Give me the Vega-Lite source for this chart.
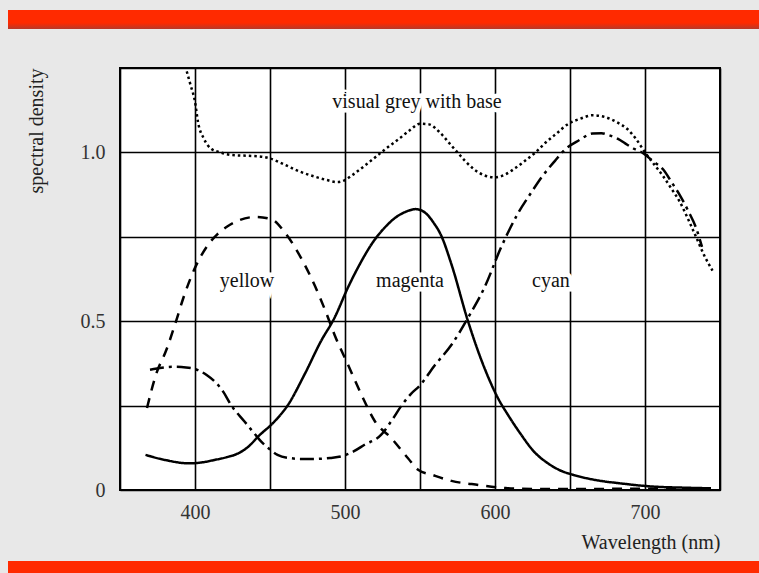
{
  "$schema": "https://vega.github.io/schema/vega-lite/v6.json",
  "background": "#e8e8e8",
  "padding": {"left": 8, "top": 10, "right": 0, "bottom": 0},
  "config": {"font": "Liberation Serif", "view": {"stroke": null}},
  "datasets": {
    "curves": [
      {"series": "grey", "nm": 394.5, "density": 1.24},
      {"series": "grey", "nm": 397, "density": 1.2},
      {"series": "grey", "nm": 400, "density": 1.15},
      {"series": "grey", "nm": 402, "density": 1.09},
      {"series": "grey", "nm": 406, "density": 1.04},
      {"series": "grey", "nm": 411, "density": 1.01},
      {"series": "grey", "nm": 417, "density": 1.0},
      {"series": "grey", "nm": 425, "density": 0.992},
      {"series": "grey", "nm": 435, "density": 0.99},
      {"series": "grey", "nm": 445, "density": 0.987},
      {"series": "grey", "nm": 450, "density": 0.982},
      {"series": "grey", "nm": 460, "density": 0.963},
      {"series": "grey", "nm": 470, "density": 0.943},
      {"series": "grey", "nm": 480, "density": 0.928},
      {"series": "grey", "nm": 488, "density": 0.918},
      {"series": "grey", "nm": 495, "density": 0.912},
      {"series": "grey", "nm": 500, "density": 0.918},
      {"series": "grey", "nm": 505, "density": 0.933},
      {"series": "grey", "nm": 513, "density": 0.96},
      {"series": "grey", "nm": 520, "density": 0.985},
      {"series": "grey", "nm": 527, "density": 1.01},
      {"series": "grey", "nm": 536, "density": 1.04},
      {"series": "grey", "nm": 543, "density": 1.065},
      {"series": "grey", "nm": 550, "density": 1.085},
      {"series": "grey", "nm": 556, "density": 1.083},
      {"series": "grey", "nm": 563, "density": 1.06},
      {"series": "grey", "nm": 570, "density": 1.025},
      {"series": "grey", "nm": 575, "density": 1.0},
      {"series": "grey", "nm": 580, "density": 0.975},
      {"series": "grey", "nm": 586, "density": 0.95},
      {"series": "grey", "nm": 593, "density": 0.932},
      {"series": "grey", "nm": 600, "density": 0.926},
      {"series": "grey", "nm": 607, "density": 0.935},
      {"series": "grey", "nm": 614, "density": 0.955},
      {"series": "grey", "nm": 620, "density": 0.975},
      {"series": "grey", "nm": 627, "density": 1.0},
      {"series": "grey", "nm": 634, "density": 1.03},
      {"series": "grey", "nm": 641, "density": 1.056},
      {"series": "grey", "nm": 649, "density": 1.085},
      {"series": "grey", "nm": 657, "density": 1.1},
      {"series": "grey", "nm": 665, "density": 1.11},
      {"series": "grey", "nm": 673, "density": 1.105},
      {"series": "grey", "nm": 681, "density": 1.09},
      {"series": "grey", "nm": 688, "density": 1.07},
      {"series": "grey", "nm": 694, "density": 1.04},
      {"series": "grey", "nm": 700, "density": 1.0},
      {"series": "grey", "nm": 706, "density": 0.965},
      {"series": "grey", "nm": 712, "density": 0.93},
      {"series": "grey", "nm": 718, "density": 0.89},
      {"series": "grey", "nm": 723, "density": 0.855},
      {"series": "grey", "nm": 729, "density": 0.8},
      {"series": "grey", "nm": 734, "density": 0.75},
      {"series": "grey", "nm": 740, "density": 0.69},
      {"series": "grey", "nm": 745, "density": 0.65},

      {"series": "cyan", "nm": 370, "density": 0.356},
      {"series": "cyan", "nm": 378, "density": 0.362},
      {"series": "cyan", "nm": 386, "density": 0.365},
      {"series": "cyan", "nm": 394, "density": 0.363},
      {"series": "cyan", "nm": 402, "density": 0.355},
      {"series": "cyan", "nm": 408, "density": 0.34},
      {"series": "cyan", "nm": 413, "density": 0.322},
      {"series": "cyan", "nm": 419, "density": 0.29},
      {"series": "cyan", "nm": 424, "density": 0.252},
      {"series": "cyan", "nm": 433, "density": 0.203},
      {"series": "cyan", "nm": 440, "density": 0.165},
      {"series": "cyan", "nm": 444, "density": 0.144},
      {"series": "cyan", "nm": 450, "density": 0.12},
      {"series": "cyan", "nm": 455, "density": 0.104},
      {"series": "cyan", "nm": 464, "density": 0.094},
      {"series": "cyan", "nm": 472, "density": 0.092},
      {"series": "cyan", "nm": 480, "density": 0.092},
      {"series": "cyan", "nm": 490, "density": 0.095},
      {"series": "cyan", "nm": 498, "density": 0.1},
      {"series": "cyan", "nm": 506, "density": 0.115},
      {"series": "cyan", "nm": 513, "density": 0.134},
      {"series": "cyan", "nm": 524, "density": 0.163},
      {"series": "cyan", "nm": 531, "density": 0.205},
      {"series": "cyan", "nm": 538, "density": 0.252},
      {"series": "cyan", "nm": 544, "density": 0.285},
      {"series": "cyan", "nm": 550, "density": 0.31},
      {"series": "cyan", "nm": 560, "density": 0.37},
      {"series": "cyan", "nm": 571, "density": 0.43},
      {"series": "cyan", "nm": 582, "density": 0.51},
      {"series": "cyan", "nm": 593, "density": 0.6},
      {"series": "cyan", "nm": 604, "density": 0.718},
      {"series": "cyan", "nm": 615, "density": 0.817},
      {"series": "cyan", "nm": 624, "density": 0.88},
      {"series": "cyan", "nm": 631, "density": 0.926},
      {"series": "cyan", "nm": 640, "density": 0.975},
      {"series": "cyan", "nm": 647, "density": 1.01},
      {"series": "cyan", "nm": 656, "density": 1.036},
      {"series": "cyan", "nm": 665, "density": 1.056},
      {"series": "cyan", "nm": 671, "density": 1.057},
      {"series": "cyan", "nm": 676, "density": 1.051},
      {"series": "cyan", "nm": 682, "density": 1.04},
      {"series": "cyan", "nm": 687, "density": 1.026},
      {"series": "cyan", "nm": 693, "density": 1.01},
      {"series": "cyan", "nm": 699, "density": 0.997},
      {"series": "cyan", "nm": 705, "density": 0.975},
      {"series": "cyan", "nm": 712, "density": 0.95},
      {"series": "cyan", "nm": 718, "density": 0.91},
      {"series": "cyan", "nm": 723, "density": 0.875},
      {"series": "cyan", "nm": 729, "density": 0.825},
      {"series": "cyan", "nm": 734, "density": 0.777},
      {"series": "cyan", "nm": 738, "density": 0.72},

      {"series": "yellow", "nm": 368, "density": 0.243},
      {"series": "yellow", "nm": 374, "density": 0.342},
      {"series": "yellow", "nm": 381, "density": 0.416},
      {"series": "yellow", "nm": 387, "density": 0.495},
      {"series": "yellow", "nm": 393, "density": 0.579},
      {"series": "yellow", "nm": 400, "density": 0.658},
      {"series": "yellow", "nm": 409, "density": 0.728},
      {"series": "yellow", "nm": 415, "density": 0.758},
      {"series": "yellow", "nm": 422, "density": 0.782},
      {"series": "yellow", "nm": 430, "density": 0.8},
      {"series": "yellow", "nm": 441, "density": 0.809},
      {"series": "yellow", "nm": 451, "density": 0.802},
      {"series": "yellow", "nm": 460, "density": 0.762},
      {"series": "yellow", "nm": 470, "density": 0.693},
      {"series": "yellow", "nm": 480, "density": 0.604},
      {"series": "yellow", "nm": 487, "density": 0.53},
      {"series": "yellow", "nm": 493, "density": 0.46},
      {"series": "yellow", "nm": 502, "density": 0.371},
      {"series": "yellow", "nm": 511, "density": 0.282},
      {"series": "yellow", "nm": 520, "density": 0.203},
      {"series": "yellow", "nm": 531, "density": 0.153},
      {"series": "yellow", "nm": 542, "density": 0.094},
      {"series": "yellow", "nm": 549, "density": 0.059},
      {"series": "yellow", "nm": 558, "density": 0.045},
      {"series": "yellow", "nm": 571, "density": 0.027},
      {"series": "yellow", "nm": 589, "density": 0.015},
      {"series": "yellow", "nm": 607, "density": 0.006},
      {"series": "yellow", "nm": 627, "density": 0.003},
      {"series": "yellow", "nm": 660, "density": 0.003},
      {"series": "yellow", "nm": 700, "density": 0.004},
      {"series": "yellow", "nm": 744, "density": 0.004},

      {"series": "magenta", "nm": 367, "density": 0.104},
      {"series": "magenta", "nm": 380, "density": 0.089},
      {"series": "magenta", "nm": 396, "density": 0.079},
      {"series": "magenta", "nm": 405, "density": 0.082},
      {"series": "magenta", "nm": 413, "density": 0.089},
      {"series": "magenta", "nm": 421, "density": 0.097},
      {"series": "magenta", "nm": 429, "density": 0.109},
      {"series": "magenta", "nm": 436, "density": 0.13},
      {"series": "magenta", "nm": 442, "density": 0.158},
      {"series": "magenta", "nm": 453, "density": 0.203},
      {"series": "magenta", "nm": 462, "density": 0.252},
      {"series": "magenta", "nm": 473, "density": 0.342},
      {"series": "magenta", "nm": 484, "density": 0.441},
      {"series": "magenta", "nm": 493, "density": 0.51},
      {"series": "magenta", "nm": 502, "density": 0.6},
      {"series": "magenta", "nm": 510, "density": 0.67},
      {"series": "magenta", "nm": 518, "density": 0.73},
      {"series": "magenta", "nm": 526, "density": 0.775},
      {"series": "magenta", "nm": 534, "density": 0.808},
      {"series": "magenta", "nm": 541, "density": 0.825},
      {"series": "magenta", "nm": 547, "density": 0.832},
      {"series": "magenta", "nm": 551, "density": 0.828},
      {"series": "magenta", "nm": 555, "density": 0.815},
      {"series": "magenta", "nm": 559, "density": 0.792},
      {"series": "magenta", "nm": 564, "density": 0.755},
      {"series": "magenta", "nm": 571, "density": 0.668},
      {"series": "magenta", "nm": 582, "density": 0.5},
      {"series": "magenta", "nm": 593, "density": 0.361},
      {"series": "magenta", "nm": 602, "density": 0.272},
      {"series": "magenta", "nm": 609, "density": 0.22},
      {"series": "magenta", "nm": 616, "density": 0.173},
      {"series": "magenta", "nm": 627, "density": 0.109},
      {"series": "magenta", "nm": 635, "density": 0.08},
      {"series": "magenta", "nm": 643, "density": 0.059},
      {"series": "magenta", "nm": 652, "density": 0.045},
      {"series": "magenta", "nm": 661, "density": 0.035},
      {"series": "magenta", "nm": 672, "density": 0.026},
      {"series": "magenta", "nm": 683, "density": 0.02},
      {"series": "magenta", "nm": 695, "density": 0.014},
      {"series": "magenta", "nm": 706, "density": 0.01},
      {"series": "magenta", "nm": 725, "density": 0.007},
      {"series": "magenta", "nm": 744, "density": 0.005}
    ],
    "labels": [
      {"label": "visual grey with base", "nm": 548, "density": 1.15},
      {"label": "yellow", "nm": 434.7, "density": 0.618},
      {"label": "magenta", "nm": 543.3, "density": 0.618},
      {"label": "cyan", "nm": 637.3, "density": 0.618}
    ]
  },
  "spacing": 8,
  "vconcat": [
    {
      "spacing": 28,
      "vconcat": [
        {
          "width": 751,
          "height": 19,
          "view": {"fill": "#ff2a00", "stroke": null},
          "data": {"values": [{}]},
          "mark": {
            "type": "rect",
            "color": {
              "gradient": "linear", "x1": 0, "y1": 0, "x2": 0, "y2": 1,
              "stops": [
                {"offset": 0, "color": "#ff2a00"},
                {"offset": 0.68, "color": "#ff2a00"},
                {"offset": 1, "color": "#b8382a"}
              ]
            }
          },
          "encoding": {}
        },
        {
          "spacing": 16,
          "hconcat": [
            {
              "width": 1,
              "height": 1,
              "view": {"stroke": null},
              "data": {"values": [{}]},
              "mark": {"type": "rect", "opacity": 0},
              "encoding": {}
            },
            {
              "width": 600,
              "height": 422,
              "view": {"stroke": "#000000", "strokeWidth": 2, "fill": "#ffffff"},
              "layer": [
                {
                  "data": {"name": "labels"},
                  "mark": {"type": "text", "font": "Liberation Serif", "fontSize": 20, "fill": "#ffffff", "stroke": "#ffffff", "strokeWidth": 9, "baseline": "middle", "align": "center"},
                  "encoding": {
                    "x": {"field": "nm", "type": "quantitative"},
                    "y": {"field": "density", "type": "quantitative"},
                    "text": {"field": "label"}
                  }
                },
                {
                  "data": {"name": "curves"},
                  "mark": {"type": "line", "interpolate": "monotone", "strokeWidth": 2.5, "color": "#000000", "strokeCap": "butt"},
                  "encoding": {
                    "x": {
                      "field": "nm", "type": "quantitative",
                      "scale": {"domain": [350, 750], "nice": false, "zero": false},
                      "axis": {
                        "values": [350, 400, 450, 500, 550, 600, 650, 700, 750],
                        "labelExpr": "datum.value % 100 === 0 && datum.value > 350 && datum.value < 750 ? datum.label : ''",
                        "title": "Wavelength (nm)",
                        "grid": true, "gridColor": "#000000", "gridWidth": 1.6, "gridOpacity": 1,
                        "domain": false, "ticks": false, "tickSize": 0,
                        "labelFont": "Liberation Serif", "labelFontSize": 20, "labelColor": "#333333", "labelPadding": 12,
                        "labelFlush": false, "labelOverlap": false,
                        "titleFont": "Liberation Serif", "titleFontSize": 20, "titleFontWeight": "normal", "titleColor": "#222222",
                        "titleAnchor": "end", "titlePadding": 10
                      }
                    },
                    "y": {
                      "field": "density", "type": "quantitative",
                      "scale": {"domain": [0, 1.25], "nice": false},
                      "axis": {
                        "values": [0, 0.25, 0.5, 0.75, 1, 1.25],
                        "labelExpr": "datum.value === 0 ? '0' : datum.value === 0.5 ? '0.5' : datum.value === 1 ? '1.0' : ''",
                        "title": "spectral density",
                        "grid": true, "gridColor": "#000000", "gridWidth": 1.6, "gridOpacity": 1,
                        "domain": false, "ticks": false, "tickSize": 0,
                        "labelFont": "Liberation Serif", "labelFontSize": 20, "labelColor": "#333333", "labelPadding": 15,
                        "labelFlush": false, "labelOverlap": false,
                        "titleFont": "Liberation Serif", "titleFontSize": 20, "titleFontWeight": "normal", "titleColor": "#222222",
                        "titleAnchor": "end", "titlePadding": 34
                      }
                    },
                    "strokeDash": {
                      "field": "series", "type": "nominal",
                      "scale": {"domain": ["magenta", "yellow", "cyan", "grey"], "range": [[1, 0], [10, 8], [14, 5, 3, 5], [2.5, 3]]},
                      "legend": null
                    }
                  }
                },
                {
                  "data": {"name": "labels"},
                  "mark": {"type": "text", "font": "Liberation Serif", "fontSize": 20, "color": "#111111", "baseline": "middle", "align": "center"},
                  "encoding": {
                    "x": {"field": "nm", "type": "quantitative"},
                    "y": {"field": "density", "type": "quantitative"},
                    "text": {"field": "label"}
                  }
                }
              ]
            }
          ]
        }
      ]
    },
    {
      "width": 751,
      "height": 14,
      "view": {"fill": "#ff2a00", "stroke": null},
      "data": {"values": [{}]},
      "mark": {"type": "rect", "color": "#ff2a00"},
      "encoding": {}
    }
  ]
}
